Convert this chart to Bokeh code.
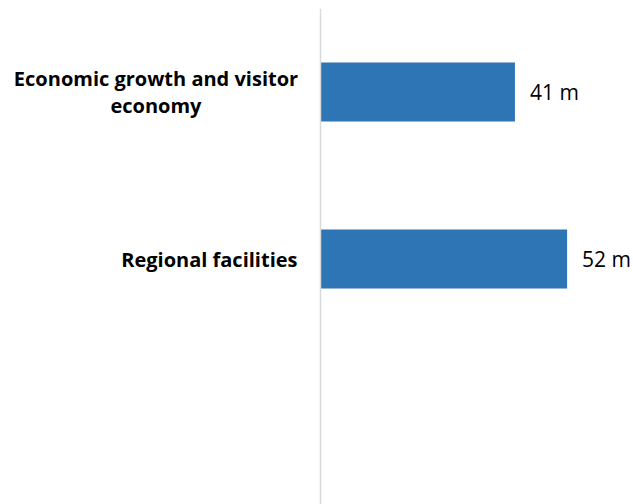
from bokeh.plotting import figure
from bokeh.models import Range1d, Span, ColumnDataSource
from bokeh.embed import file_html
from bokeh.resources import INLINE

categories = ["Economic growth and visitor\neconomy", "Regional facilities", ""]
values = [41, 52, None]
value_labels = ["41 m", "52 m", ""]

# layout constants (pixels)
W, H = 633, 504
AXIS_X = 320          # axis position from left
TOP = 8
LABEL_RIGHT = 297     # right edge of category label blocks
WRAP_WIDTH = 283      # width of the widest wrapped label line
SLOT = 167            # pixel height of one category slot
X_MAX = 66

k = (W - AXIS_X) / X_MAX
n = len(categories)
p = figure(width=W, height=H, output_backend="svg", toolbar_location=None,
           x_range=Range1d(-AXIS_X / k, X_MAX), y_range=Range1d(n - (H - TOP) / SLOT, n),
           min_border_left=0, min_border_right=0, min_border_top=TOP, min_border_bottom=0)
p.outline_line_color = None
p.xgrid.visible = False
p.ygrid.visible = False
p.xaxis.visible = False
p.yaxis.visible = False

p.add_layout(Span(location=0, dimension="height", line_color="#d9d9d9", line_width=1.5))

ys = [n - i - 0.5 for i in range(n)]
bars = ColumnDataSource(dict(
    y=[y for y, v in zip(ys, values) if v is not None],
    v=[v for v in values if v is not None],
    t=[t for t, v in zip(value_labels, values) if v is not None],
))
p.hbar(y="y", right="v", left=0, height=0.353, color="#2e75b6", line_color=None, source=bars)
p.text(x="v", y="y", text="t", x_offset=15, text_baseline="middle",
       text_font={"value": "Open Sans"}, text_font_size="21px", text_color="#000000", source=bars)

lab_y, lab_c, lab_x, lab_align = [], [], [], []
for y, c in zip(ys, categories):
    if not c:
        continue
    lab_y.append(y)
    lab_c.append(c)
    if "\n" in c:
        lab_x.append(-(AXIS_X - (LABEL_RIGHT - WRAP_WIDTH / 2)) / k)
        lab_align.append("center")
    else:
        lab_x.append(-(AXIS_X - LABEL_RIGHT) / k)
        lab_align.append("right")
cats = ColumnDataSource(dict(y=lab_y, c=lab_c, x=lab_x, a=lab_align))
p.text(x="x", y="y", text="c", text_align="a", text_baseline="middle",
       text_font={"value": "Open Sans"}, text_font_style="bold", text_font_size="20px",
       text_line_height=1.0, text_color="#000000", source=cats)

open("out.html", "w").write(file_html(p, INLINE))
